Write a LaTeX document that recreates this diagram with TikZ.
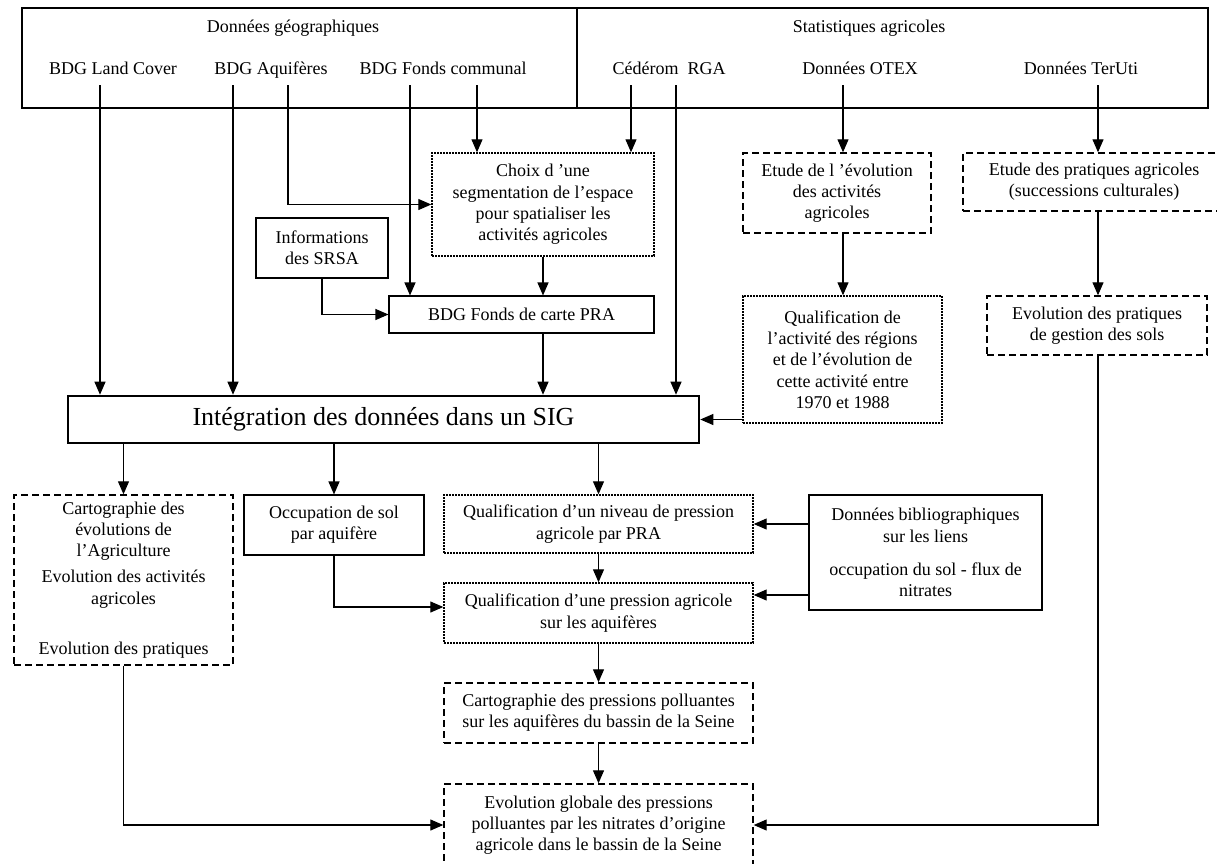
\documentclass[tikz,border=0pt]{standalone}
\usepackage{fontspec}
\setmainfont{Liberation Serif}
\usetikzlibrary{positioning,arrows.meta}

\begin{document}
\begin{tikzpicture}[x=1pt,y=-1pt,
txt/.style={inner sep=0pt,align=center,font=\fontsize{18}{21.3}\selectfont},
lbl/.style={txt,text height=13pt,text depth=4pt},
box/.style={txt,draw,line width=1.1pt},
dbox/.style={box,dash pattern=on 7pt off 4pt,line width=1.4pt},
obox/.style={box,dash pattern=on 1.6pt off 1.4pt,line width=1.4pt},
arrow/.style={-{Triangle[length=13pt,width=11pt]},line width=1.1pt}]
\clip (0,0) rectangle (1217,863);
\node[box,minimum width=555pt,minimum height=100pt] (geo) at (299.5,58) {};
\node[box,minimum width=631pt,minimum height=100pt] (stat) at (892.5,58) {};
\node[lbl] (geot) at (293,28) {Données géographiques};
\node[lbl] (statt) at (869,28) {Statistiques agricoles};
\node[lbl] (landcover) at (113,70) {BDG Land Cover};
\node[lbl] (aquif) at (271,70) {BDG Aquifères};
\node[lbl] (fondscom) at (443,70) {BDG Fonds communal};
\node[lbl] (cederom) at (669,70) {Cédérom~~RGA};
\node[lbl] (otex) at (860,70) {Données OTEX};
\node[lbl] (teruti) at (1081,70) {Données TerUti};
\coordinate (lc) at (100,85);\coordinate (aq1) at (233,85);\coordinate (aq2) at (288,85);
\coordinate (fc1) at (410,85);\coordinate (fc2) at (477,85);\coordinate (ced) at (631,85);
\coordinate (rga) at (676,85);\coordinate (otx) at (843,85);\coordinate (ter) at (1098,85);
\node[obox,minimum width=222pt,minimum height=103pt] (choix) at (543,204.5) {Choix d ’une\\segmentation de l’espace\\pour spatialiser les\\activités agricoles};
\node[box,minimum width=132pt,minimum height=60pt] (srsa) at (322,248) {Informations\\des SRSA};
\node[box,minimum width=265pt,minimum height=37pt] (pra) at (521.5,314.5) {BDG Fonds de carte PRA};
\node[dbox,minimum width=188pt,minimum height=80pt] (evol) at (837,193) {Etude de l ’évolution\\des activités\\agricoles};
\node[obox,minimum width=199pt,minimum height=127pt] (qualact) at (842.5,359.5) {Qualification de\\l’activité des régions\\et de l’évolution de\\cette activité entre\\1970 et 1988};
\node[dbox,minimum width=262pt,minimum height=58pt] (etprat) at (1094,182) {Etude des pratiques agricoles\\(successions culturales)};
\node[dbox,minimum width=220pt,minimum height=59pt] (gestion) at (1097,325.5) {Evolution des pratiques\\de gestion des sols};
\node[box,line width=2.6pt,minimum width=631pt,minimum height=47pt,font=\fontsize{26}{30}\selectfont] (intg) at (383.5,419.5) {Intégration des données dans un SIG};
\node[dbox,minimum width=219pt,minimum height=170pt] (carto) at (123.5,580) {Cartographie des\\évolutions de\\l’Agriculture\\[5pt]Evolution des activités\\agricoles\\[29pt]Evolution des pratiques};
\node[box,minimum width=180pt,minimum height=60pt] (occup) at (334,525) {Occupation de sol\\par aquifère};
\node[obox,minimum width=309pt,minimum height=58pt] (niveau) at (598.5,524) {Qualification d’un niveau de pression\\agricole par PRA};
\node[obox,minimum width=309pt,minimum height=60pt] (pression) at (598.5,613) {Qualification d’une pression agricole\\sur les aquifères};
\node[box,minimum width=233pt,minimum height=115pt] (biblio) at (925.5,552.5) {Données bibliographiques\\sur les liens\\[12pt]occupation du sol - flux de\\nitrates};
\node[dbox,minimum width=309pt,minimum height=60pt] (cartopress) at (598.5,713) {Cartographie des pressions polluantes\\sur les aquifères du bassin de la Seine};
\node[dbox,minimum width=309pt,minimum height=82pt] (final) at (598.5,825) {Evolution globale des pressions\\polluantes par les nitrates d’origine\\agricole dans le bassin de la Seine};
\coordinate (pe) at ([yshift=18pt]pression.east);\coordinate (pw) at ([yshift=6pt]pression.west);
\draw[arrow](lc)--(lc|-intg.north);\draw[arrow](aq1)--(aq1|-intg.north);\draw[arrow](aq2)|-(choix.west);
\draw[arrow](fc1)--(fc1|-pra.north);\draw[arrow](fc2)--(fc2|-choix.north);\draw[arrow](ced)--(ced|-choix.north);
\draw[arrow](rga)--(rga|-intg.north);\draw[arrow](otx)--(otx|-evol.north);\draw[arrow](ter)--(ter|-etprat.north);
\draw[arrow](choix.south)--(choix.south|-pra.north);\draw[arrow](srsa.south)|-(pra.west);
\draw[arrow](choix.south|-pra.south)--(choix.south|-intg.north);
\draw[arrow](otx|-evol.south)--(otx|-qualact.north);\draw[arrow](intg.east-|qualact.west)--(intg.east);
\draw[arrow](ter|-etprat.south)--(ter|-gestion.north);\draw[arrow](ter|-gestion.south)|-(final.east);
\draw[arrow](carto.north|-intg.south)--(carto.north);\draw[arrow](occup.north|-intg.south)--(occup.north);
\draw[arrow](niveau.north|-intg.south)--(niveau.north);
\draw[arrow](occup.south)|-(pw);\draw[arrow](niveau.south)--(pression.north);
\draw[arrow](biblio.west|-niveau.east)--(niveau.east);\draw[arrow](biblio.west|-pe)--(pe);
\draw[arrow](pression.south)--(cartopress.north);\draw[arrow](cartopress.south)--(final.north);
\draw[arrow](carto.south)|-(final.west);
\end{tikzpicture}
\end{document}
